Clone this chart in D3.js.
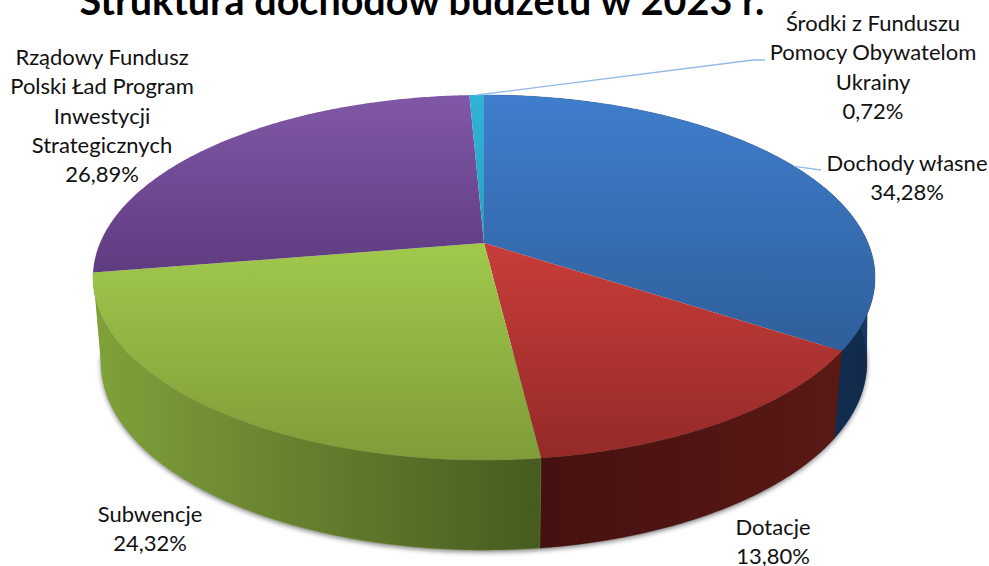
<!DOCTYPE html>
<html><head><meta charset="utf-8">
<script src="https://cdnjs.cloudflare.com/ajax/libs/d3/7.8.5/d3.min.js"></script>
<style>html,body{margin:0;padding:0;background:#fff;overflow:hidden}svg{display:block}text{font-family:Lato,"Open Sans",sans-serif;fill:#111}</style>
</head><body><div id="c"></div>
<script>
// Data
const categories = ["Dochody własne","Dotacje","Subwencje","Rządowy Fundusz Polski Ład Program Inwestycji Strategicznych","Środki z Funduszu Pomocy Obywatelom Ukrainy"];
const values = [34.28,13.80,24.32,26.89,0.72];
const valueLabels = ["34,28%","13,80%","24,32%","26,89%","0,72%"];
const title = "Struktura dochodów budżetu w 2023 r.";
// Styles
const topColors = [["#3f7ecd","#2f5f9b"],["#c83d39","#942a28"],["#a0c94c","#7f9c39"],["#8058a7","#5f3b7f"],["#2fb4d6","#2a9fc0"]];
const wallColors = [["#16375f","#112b4c"],["#451110","#5a1915"],["#80a13a","#465b20"]];
// Label layout
const labelLines = [["Dochody własne"],["Dotacje"],["Subwencje"],["Rządowy Fundusz","Polski Ład Program","Inwestycji","Strategicznych"],["Środki z Funduszu","Pomocy Obywatelom","Ukrainy"]];
const labelX = [907,773,150,102,873];
const labelY = [171,535,522,65,31];
const lineStep = 29.3;
const leaders = {0:[[821,170]],4:[[753,60],[765,60]]};

const W=989,H=566;
const svg=d3.select("#c").append("svg").attr("width",W).attr("height",H);
const defs=svg.append("defs");
defs.append("filter").attr("id","sh").attr("x","-10%").attr("y","-10%").attr("width","120%").attr("height","120%")
  .append("feGaussianBlur").attr("stdDeviation",2.5);

const k=0.189;
const topX=d3.scaleLinear([-1,1],[484-384,484+384]);
const topY=d3.scaleLinear([-1,1],[243-176,243+176]);
const botX=d3.scaleLinear([-1,1],[484-376,484+376]);
const botY=d3.scaleLinear([-1,1],[327-181,327+181]);
const proj=(sx,sy,a)=>{const u=Math.sin(a),v=-Math.cos(a),w=1-k*v;return [sx(u/w),sy(v/w)];};
const upper=a=>proj(topX,topY,a), lower=a=>proj(botX,botY,a);
const arcs=d3.pie().sort(null).startAngle(0).endAngle(2*Math.PI)(values);
const samples=(a0,a1)=>{const n=Math.max(2,Math.ceil((a1-a0)/0.01));return d3.range(n+1).map(i=>a0+(a1-a0)*i/n);};
const line=d3.line();

const grad=(id,c,horizontal)=>{
  const g=defs.append("linearGradient").attr("id",id).attr("x1",0).attr("y1",0).attr("x2",horizontal?1:0).attr("y2",horizontal?0:1);
  g.append("stop").attr("offset",0).attr("stop-color",c[0]);
  g.append("stop").attr("offset",1).attr("stop-color",c[1]);
};
arcs.forEach((d,i)=>{grad("t"+i,topColors[i],false); if(wallColors[i]) grad("w"+i,wallColors[i],true);});

// soft shadow beneath the lower rim
const deg=Math.PI/180;
const shadowPts=samples(95*deg,262*deg).map(lower);
svg.append("path").attr("d",line(shadowPts)+"Z")
  .attr("transform","translate(0,2)").attr("fill","#555").attr("opacity",.75).attr("filter","url(#sh)");

// tangent pieces closing the silhouette at the far left and far right of the rim
const sideHull=(upperAngle,lowerFrom,lowerTo)=>d3.polygonHull([upper(upperAngle),...samples(lowerFrom*deg,lowerTo*deg).map(lower)]);
const sides=[
  {pts:sideHull(arcs[2].endAngle,225,270),fill:wallColors[2][0]},
  {pts:sideHull(90*deg,90,135),fill:wallColors[0][0]}
];
svg.append("g").selectAll("path").data(sides).join("path")
  .attr("d",d=>line(d.pts)+"Z").attr("fill",d=>d.fill);

// walls: only the slices facing the viewer
svg.append("g").selectAll("path").data(arcs.filter(d=>wallColors[d.index])).join("path")
  .attr("d",d=>{
    const s=samples(d.startAngle,d.endAngle);
    return line(s.map(upper).concat(s.slice().reverse().map(lower)))+"Z";})
  .attr("fill",d=>`url(#w${d.index})`).attr("stroke",d=>wallColors[d.index][0]).attr("stroke-width",.3);

// top faces
svg.append("g").selectAll("path").data(arcs).join("path")
  .attr("d",d=>line([[topX(0),topY(0)],...samples(d.startAngle,d.endAngle).map(upper)])+"Z")
  .attr("fill",d=>`url(#t${d.index})`);

// leaders
svg.append("g").selectAll("path").data(arcs.filter(d=>leaders[d.index])).join("path")
  .attr("d",d=>line([upper((d.startAngle+d.endAngle)/2),...leaders[d.index]]))
  .attr("fill","none").attr("stroke","#94b9e6").attr("stroke-width",1.3);

// labels
const lab=svg.append("g").attr("font-size",22).attr("text-anchor","middle");
arcs.forEach((d,i)=>{
  labelLines[i].concat(valueLabels[i]).forEach((t,j)=>{
    lab.append("text").attr("x",labelX[i]).attr("y",labelY[i]+j*lineStep).text(t);
  });
});
svg.append("text").attr("x",422).attr("y",15).attr("text-anchor","middle").attr("font-size",39.5).attr("font-weight",700).style("fill","#000").text(title);
</script></body></html>
